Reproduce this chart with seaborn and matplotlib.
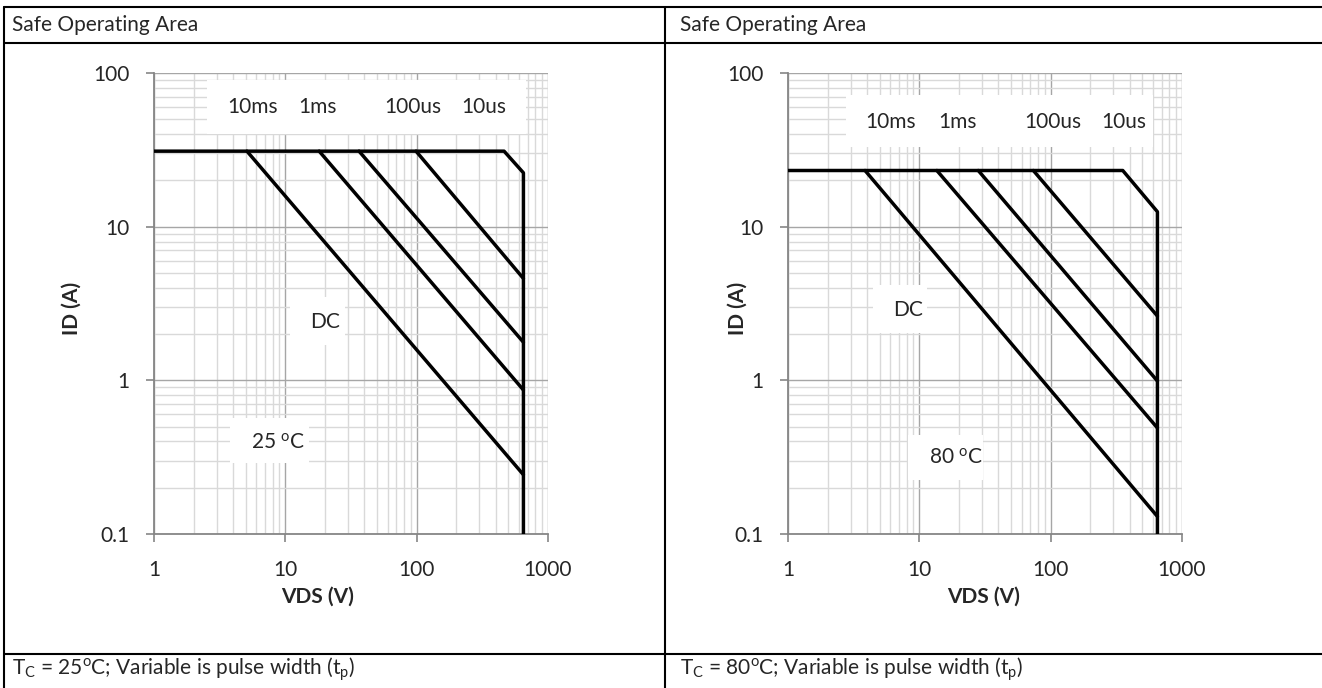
import matplotlib
matplotlib.use("Agg")
import matplotlib.pyplot as plt
import matplotlib.ticker as mticker
from matplotlib.lines import Line2D
from matplotlib.patches import Rectangle
import numpy as np
import pandas as pd
import seaborn as sns

# ---- data ------------------------------------------------------------------
VDS_MAX = 650.0
ID_FLOOR = 0.1

# Tc = 25 C
I_LIMIT_25 = 31.0
KNEE_V_25 = 463.0
CORNER_I_25 = 22.4
DIAG_START_V_25 = [5.1, 18.1, 36.4, 98.9]
DIAG_END_I_25 = [0.243, 0.865, 1.77, 4.6]

# Tc = 80 C
I_LIMIT_80 = 23.2
KNEE_V_80 = 354.0
CORNER_I_80 = 12.5
DIAG_START_V_80 = [3.86, 13.6, 28.1, 73.8]
DIAG_END_I_80 = [0.13, 0.49, 0.99, 2.62]

PULSE_LABELS = ["10ms", "1ms", "100us", "10us"]
X_TICKS = [1, 10, 100, 1000]
Y_TICKS = [0.1, 1, 10, 100]

TEXT_FONT = ["Lato", "DejaVu Sans"]
MAJOR_GRID = "#a6a6a6"
MINOR_GRID = "#d9d9d9"
AXIS_GREY = "#868686"


def build_segments(i_limit, knee_v, corner_i, diag_start, diag_end) -> pd.DataFrame:
    rows = []
    outline = [(1.0, i_limit), (knee_v, i_limit), (VDS_MAX, corner_i), (VDS_MAX, ID_FLOOR)]
    for v, i in outline:
        rows.append({"seg": "limit", "vds": v, "id": i})
    for k, (v0, i1) in enumerate(zip(diag_start, diag_end)):
        rows.append({"seg": f"d{k}", "vds": v0, "id": i_limit})
        rows.append({"seg": f"d{k}", "vds": VDS_MAX, "id": i1})
    return pd.DataFrame(rows)


def white_box(ax, x0, y0, x1, y1):
    ax.add_patch(Rectangle((x0, y0), x1 - x0, y1 - y0, transform=ax.transAxes,
                           facecolor="white", edgecolor="none", zorder=1))


def style_axes(ax, ylab_x, xlab_x):
    ax.set_xscale("log")
    ax.set_yscale("log")
    ax.set_xlim(1, 1000)
    ax.set_ylim(0.1, 100)
    ax.set_axisbelow(True)
    ax.xaxis.set_major_locator(mticker.FixedLocator(X_TICKS))
    ax.yaxis.set_major_locator(mticker.FixedLocator(Y_TICKS))
    ax.xaxis.set_major_formatter(mticker.FuncFormatter(lambda v, p: f"{v:g}"))
    ax.yaxis.set_major_formatter(mticker.FuncFormatter(lambda v, p: f"{v:g}"))
    ax.xaxis.set_minor_locator(mticker.LogLocator(base=10, subs=np.arange(2, 10)))
    ax.yaxis.set_minor_locator(mticker.LogLocator(base=10, subs=np.arange(2, 10)))
    ax.xaxis.set_minor_formatter(mticker.NullFormatter())
    ax.yaxis.set_minor_formatter(mticker.NullFormatter())
    ax.grid(which="major", color=MAJOR_GRID, lw=1.0)
    ax.grid(which="minor", color=MINOR_GRID, lw=1.0)
    ax.tick_params(which="major", direction="out", length=5.8, width=1.2,
                   color=AXIS_GREY, labelsize=15, left=True, bottom=True)
    ax.tick_params(axis="y", which="major", pad=12)
    ax.tick_params(axis="x", which="major", pad=13)
    ax.tick_params(which="minor", length=0)
    for side in ("top", "right"):
        ax.spines[side].set_visible(False)
    for side in ("left", "bottom"):
        ax.spines[side].set_color(AXIS_GREY)
        ax.spines[side].set_linewidth(1.3)
    ax.set_xlabel("VDS (V)", fontsize=15, fontweight="bold")
    ax.set_ylabel("ID (A)", fontsize=15, fontweight="bold")
    ax.yaxis.set_label_coords(ylab_x, 0.49)
    ax.xaxis.set_label_coords(xlab_x, -0.115)


def draw_panel(ax, df, pulse_box, pulse_x, pulse_y, dc_box, dc_xy, temp_box, temp_xy, temp_text):
    sns.lineplot(data=df, x="vds", y="id", units="seg", estimator=None, sort=False,
                 color="black", lw=2.5, ax=ax, zorder=3)
    white_box(ax, *pulse_box)
    for lab, px in zip(PULSE_LABELS, pulse_x):
        ax.text(px, pulse_y, lab, transform=ax.transAxes, ha="center", va="center",
                fontsize=15, zorder=4)
    white_box(ax, *dc_box)
    ax.text(*dc_xy, "DC", transform=ax.transAxes, ha="center", va="center", fontsize=15, zorder=4)
    white_box(ax, *temp_box)
    ax.text(*temp_xy, temp_text, transform=ax.transAxes, ha="center", va="center",
            fontsize=15, zorder=4)


sns.set_theme(style="white")
plt.rcParams["font.family"] = TEXT_FONT
plt.rcParams["mathtext.fontset"] = "custom"
plt.rcParams["mathtext.rm"] = "Lato"
plt.rcParams["mathtext.it"] = "Lato:italic"
plt.rcParams["mathtext.bf"] = "Lato:bold"

fig = plt.figure(figsize=(13.22, 6.88), dpi=100)
fig.patch.set_facecolor("white")

ax_l = fig.add_axes([154 / 1322, 1 - 534 / 688, 394 / 1322, 461 / 688])
ax_r = fig.add_axes([788 / 1322, 1 - 534 / 688, 394 / 1322, 461 / 688])

df25 = build_segments(I_LIMIT_25, KNEE_V_25, CORNER_I_25, DIAG_START_V_25, DIAG_END_I_25)
df80 = build_segments(I_LIMIT_80, KNEE_V_80, CORNER_I_80, DIAG_START_V_80, DIAG_END_I_80)

draw_panel(ax_l, df25,
           pulse_box=(0.135, 0.868, 0.944, 0.985), pulse_x=[0.249, 0.414, 0.657, 0.838], pulse_y=0.926,
           dc_box=(0.345, 0.410, 0.485, 0.514), dc_xy=(0.434, 0.46),
           temp_box=(0.193, 0.154, 0.393, 0.252), temp_xy=(0.315, 0.197),
           temp_text="25 $^{\\rm o}$C")
draw_panel(ax_r, df80,
           pulse_box=(0.147, 0.839, 0.926, 0.952), pulse_x=[0.261, 0.429, 0.673, 0.853], pulse_y=0.894,
           dc_box=(0.216, 0.436, 0.353, 0.540), dc_xy=(0.305, 0.486),
           temp_box=(0.305, 0.117, 0.495, 0.215), temp_xy=(0.426, 0.165),
           temp_text="80 $^{\\rm o}$C")

style_axes(ax_l, ylab_x=-0.183, xlab_x=0.414)
style_axes(ax_r, ylab_x=-0.102, xlab_x=0.497)

# table frame around the two panels
def fig_line(xs, ys):
    fig.add_artist(Line2D(xs, ys, transform=fig.transFigure, color="black", lw=1.5))

y_top, y_head, y_foot = 1 - 7 / 688, 1 - 43 / 688, 1 - 654 / 688
x_left, x_mid = 4 / 1322, 665 / 1322
fig_line([x_left, 1], [y_top, y_top])
fig_line([x_left, 1], [y_head, y_head])
fig_line([x_left, 1], [y_foot, y_foot])
fig_line([x_left, x_left], [0, y_top])
fig_line([x_mid, x_mid], [0, y_top])

for x0 in (12 / 1322, 680 / 1322):
    fig.text(x0, 1 - 25 / 688, "Safe Operating Area", ha="left", va="center", fontsize=15)
fig.text(12 / 1322, 1 - 669 / 688, "T$_{\\rm C}$ = 25$^{\\rm o}$C; Variable is pulse width (t$_{\\rm p}$)",
         ha="left", va="center", fontsize=15)
fig.text(680 / 1322, 1 - 669 / 688, "T$_{\\rm C}$ = 80$^{\\rm o}$C; Variable is pulse width (t$_{\\rm p}$)",
         ha="left", va="center", fontsize=15)

fig.savefig("out.png", dpi=100, facecolor="white")
